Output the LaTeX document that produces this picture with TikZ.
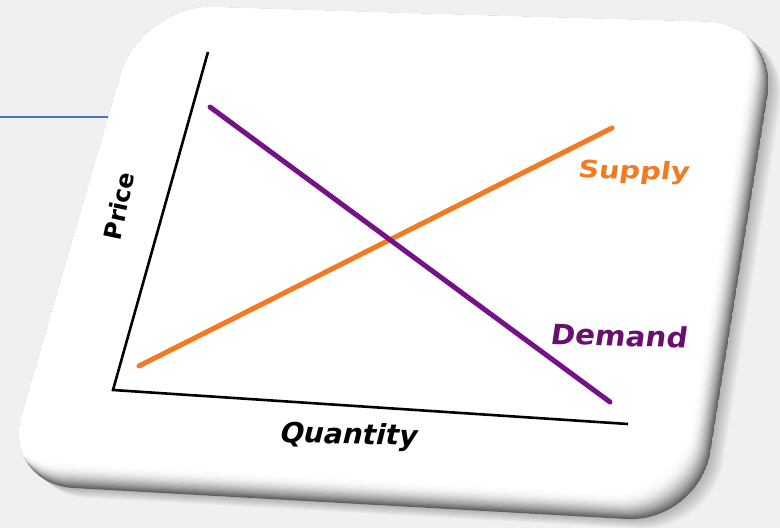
\documentclass[tikz,border=0pt]{standalone}
\usepackage{fontspec}
\setmainfont{DejaVu Sans}
\usepackage{tikz}
\definecolor{bggray}{RGB}{240, 240, 240}
\definecolor{slideblue}{RGB}{68, 114, 196}
\definecolor{supplyorange}{RGB}{242, 122, 32}
\definecolor{demandpurple}{RGB}{118, 18, 136}
\definecolor{demandtext}{RGB}{104, 16, 112}
\usetikzlibrary{
  calc,
  positioning,
}
\tikzset{
  axisline/.style={draw=black, line width=2.6pt},
  curveline/.style={line width=5pt, line cap=round},
  lbl/.style={inner sep=0pt, anchor=base},
  cardround/.style={rounded corners=72pt},
}
\def\cardshape{(460,15) -- (779,24) -- (699,523) -- (2,484) -- (141,5) -- cycle}

\begin{document}
\begin{tikzpicture}[x=1pt, y=-1pt]

      \useasboundingbox (0,0) rectangle (780,528);
      \fill[bggray] (0,0) rectangle (780,528);

      \coordinate (b0) at (0,117);
      \coordinate (b1) at (115,117);
      \draw[slideblue, line width=1.6pt] (b0) -- (b1);

      \foreach \k in {1,...,8}
        \fill[black, opacity=0.03, cardround, shift={(1.6*\k,1.2*\k)}] \cardshape;

      \begin{scope}
        \clip[cardround] \cardshape;
        \foreach \k in {0,...,20} {
          \pgfmathtruncatemacro\pc{100-62*((20-\k)/20)^2}
          \fill[white!\pc!black, cardround, shift={(-0.95*\k,-1.25*\k)}] \cardshape;
        }
      \end{scope}

      \coordinate (ytop) at (208,52);
      \coordinate (orig) at (113,390);
      \coordinate (xend) at (628,424);
      \draw[axisline] (ytop) -- (orig) -- (xend);

      \coordinate (s0) at (139,366);
      \coordinate (s1) at (612,128);
      \coordinate (d0) at (210,107);
      \coordinate (d1) at (610,402);
      \draw[curveline, supplyorange] (s0) -- (s1);
      \draw[curveline, demandpurple] (d0) -- (d1);

      \node[lbl, text=supplyorange, font=\bfseries\fontsize{24}{24}\selectfont, rotate=-1.5, xslant=0.12, xscale=1.2] (supply) at (633,179) {Supply};
      \node[lbl, text=demandtext, font=\bfseries\fontsize{28}{28}\selectfont, rotate=-1.5, xslant=0.12, xscale=1.05] (demand) at (618,346) {Demand};
      \node[lbl, font=\bfseries\fontsize{28}{28}\selectfont, rotate=-1.5, xslant=0.22] (quantity) at (347,444) {Quantity};
      \node[inner sep=0pt, font=\bfseries\fontsize{24}{24}\selectfont, rotate=78] (price) at (119,206) {Price};

\end{tikzpicture}
\end{document}
